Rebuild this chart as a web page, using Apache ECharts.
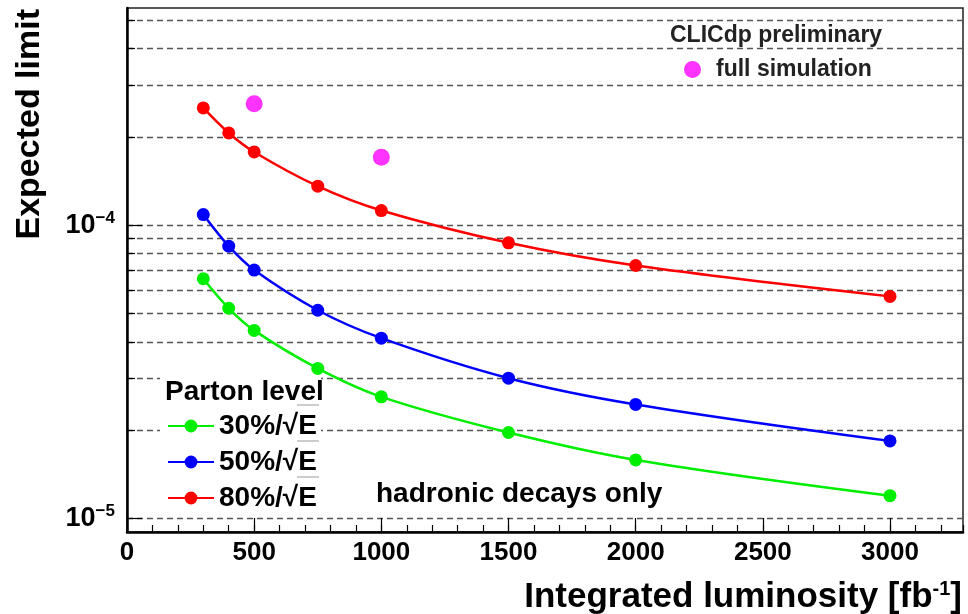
<!DOCTYPE html>
<html>
<head>
<meta charset="utf-8">
<script src="https://cdn.jsdelivr.net/npm/echarts@6/dist/echarts.min.js"></script>
<style>
  html, body { margin: 0; padding: 0; background: #fff; }
  #chart { width: 968px; height: 614px; }
</style>
</head>
<body>
<div id="chart"></div>
<script>
// integrated luminosity [fb^-1]
const lumi = [300, 400, 500, 750, 1000, 1500, 2000, 3000];
// expected limits, parton level, per jet energy resolution
const res30 = [6.57e-5, 5.21e-5, 4.38e-5, 3.25e-5, 2.60e-5, 1.965e-5, 1.585e-5, 1.197e-5];
const res50 = [1.087e-4, 8.48e-5, 7.03e-5, 5.13e-5, 4.12e-5, 3.01e-5, 2.45e-5, 1.84e-5];
const res80 = [2.51e-4, 2.063e-4, 1.777e-4, 1.358e-4, 1.122e-4, 8.71e-5, 7.29e-5, 5.72e-5];
// full simulation points
const fullSimLumi = [500, 1000];
const fullSimLimit = [2.596e-4, 1.704e-4];

const seriesNames = ['30%/\u221AE', '50%/\u221AE', '80%/\u221AE'];
const xTicks = [0, 500, 1000, 1500, 2000, 2500, 3000];
const yMajor = [1e-5, 1e-4];
const yMinor = [2e-5, 3e-5, 4e-5, 5e-5, 6e-5, 7e-5, 8e-5, 9e-5, 2e-4, 3e-4, 4e-4, 5e-4];

const FONT = '"Liberation Sans", Arial, Helvetica, sans-serif';
const pairs = (xs, ys) => xs.map((x, i) => [x, ys[i]]);
const gridDash = { show: true, lineStyle: { color: '#555', width: 1.3, type: [6, 4] } };

const chart = echarts.init(document.getElementById('chart'));

function lineSeries(name, color, values) {
  return {
    name: name,
    type: 'line',
    data: pairs(lumi, values),
    smooth: 0.35,
    symbol: 'circle',
    symbolSize: 13,
    z: 4,
    itemStyle: { color: color },
    lineStyle: { color: color, width: 2.5 }
  };
}

// overbars of the square roots in the legend
const sqrtBars = [405, 441, 477].map(y => ({
  type: 'line', z: 10,
  shape: { x1: 297, y1: y, x2: 319, y2: y },
  style: { stroke: '#999', lineWidth: 1 }
}));

chart.setOption({
  animation: false,
  title: {
    text: 'CLICdp preliminary',
    left: 665, top: 19,
    textStyle: { fontFamily: FONT, fontSize: 23, fontWeight: 'bold', color: '#222' }
  },
  legend: [
    {
      data: seriesNames,
      orient: 'vertical',
      left: 162, top: 406,
      itemWidth: 46, itemHeight: 16, itemGap: 6,
      textStyle: { fontFamily: FONT, fontSize: 28, fontWeight: 'bold', color: '#000', lineHeight: 30 }
    },
    {
      data: ['full simulation'],
      left: 679, top: 53,
      icon: 'circle',
      itemWidth: 17, itemHeight: 17,
      textStyle: { fontFamily: FONT, fontSize: 23, fontWeight: 'bold', color: '#222', padding: [0, 0, 0, 10] }
    }
  ],
  grid: {
    left: 127, right: 5, top: 8, bottom: 82,
    show: true, borderColor: '#222', borderWidth: 1.5
  },
  xAxis: [
    {
      type: 'value', min: 0, max: 3287, interval: 500,
      axisLine: { lineStyle: { color: '#000', width: 2.5 } },
      axisTick: { inside: true, length: 14, lineStyle: { color: '#000', width: 1.2 }, customValues: xTicks },
      axisLabel: {
        customValues: xTicks,
        margin: 8,
        formatter: v => String(v),
        fontFamily: FONT, fontSize: 26, fontWeight: 'bold', color: '#000'
      },
      splitLine: { show: false }
    },
    {
      type: 'value', min: 0, max: 3287, interval: 100, position: 'bottom',
      axisLine: { show: false },
      axisTick: { inside: true, length: 7, lineStyle: { color: '#000', width: 1.2 } },
      axisLabel: { show: false },
      splitLine: { show: false }
    }
  ],
  yAxis: [
    {
      type: 'log', min: 9e-6, max: 5.5e-4,
      axisLine: { lineStyle: { color: '#000', width: 2.5 } },
      axisTick: { inside: true, length: 15, lineStyle: { color: '#000', width: 1.2 }, customValues: yMajor },
      axisLabel: {
        customValues: yMajor,
        margin: 12,
        formatter: v => '{b|10}{s|\u2212' + Math.round(-Math.log10(v)) + '}',
        rich: {
          b: { fontFamily: FONT, fontSize: 27, fontWeight: 'bold', color: '#000' },
          s: { fontFamily: FONT, fontSize: 17, fontWeight: 'bold', color: '#000', padding: [0, 0, 14, 0] }
        }
      },
      splitLine: gridDash
    },
    {
      type: 'log', min: 9e-6, max: 5.5e-4, position: 'left',
      axisLine: { show: false },
      axisTick: { inside: true, length: 8, lineStyle: { color: '#000', width: 1.2 }, customValues: yMinor },
      axisLabel: { show: false },
      splitLine: gridDash
    }
  ],
  series: [
    lineSeries(seriesNames[0], '#00ee00', res30),
    lineSeries(seriesNames[1], '#0000ff', res50),
    lineSeries(seriesNames[2], '#ff0000', res80),
    {
      name: 'full simulation',
      type: 'scatter',
      data: pairs(fullSimLumi, fullSimLimit),
      symbol: 'circle',
      symbolSize: 17,
      z: 5,
      itemStyle: { color: '#ff00ff' }
    }
  ],
  graphic: [
    {
      // white legend box hiding the grid lines behind the entries
      type: 'rect', z: 1,
      shape: { x: 160, y: 376, width: 161, height: 134 },
      style: { fill: '#fff' }
    },
    {
      type: 'text', x: 30, y: 9, rotation: Math.PI / 2,
      style: { text: 'Expected limit', align: 'right', verticalAlign: 'middle',
               font: 'bold 34px ' + FONT, fill: '#000' }
    },
    {
      type: 'text', x: 962, y: 597,
      style: {
        text: '{a|Integrated luminosity [fb}{s|-1}{a|]}',
        align: 'right', verticalAlign: 'middle',
        rich: {
          a: { fontFamily: FONT, fontSize: 35, fontWeight: 'bold', fill: '#000' },
          s: { fontFamily: FONT, fontSize: 20, fontWeight: 'bold', fill: '#000', padding: [0, 0, 16, 0] }
        }
      }
    },
    {
      type: 'text', x: 165, y: 392, z: 10,
      style: { text: 'Parton level', verticalAlign: 'middle', font: 'bold 28px ' + FONT, fill: '#000' }
    },
    {
      type: 'text', x: 376, y: 494, z: 10,
      style: { text: 'hadronic decays only', verticalAlign: 'middle', font: 'bold 28px ' + FONT, fill: '#000' }
    }
  ].concat(sqrtBars)
});
</script>
</body>
</html>
